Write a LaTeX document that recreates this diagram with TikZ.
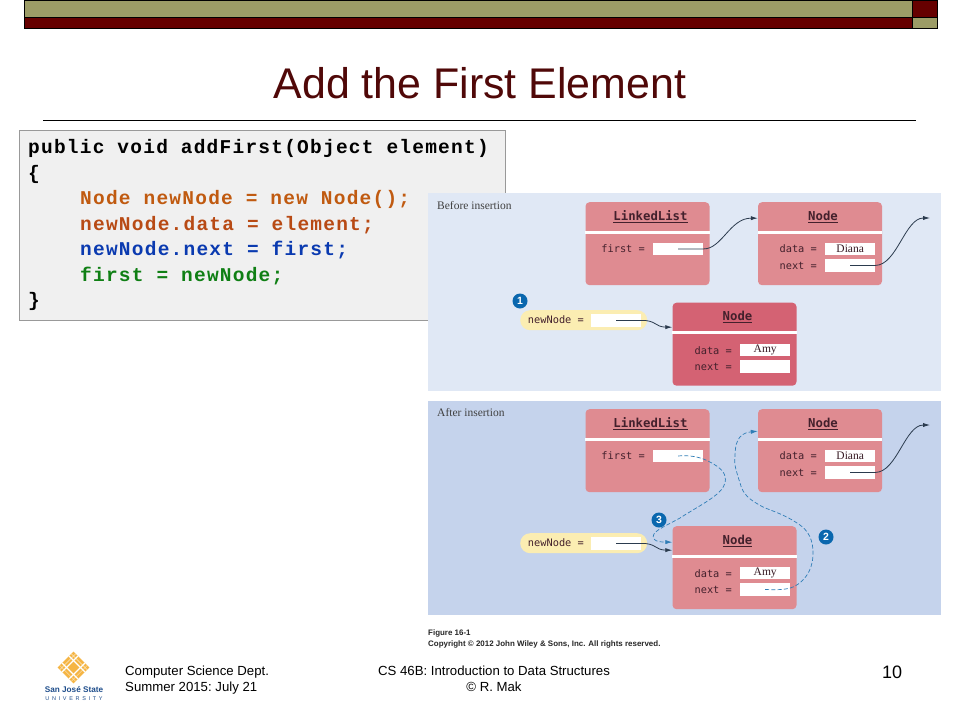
\documentclass[tikz,border=0pt]{standalone}
\usepackage{fontspec}
\setmainfont{Liberation Sans}
\newfontfamily\codefont[LetterSpace=6.3]{Liberation Mono}
\newfontfamily\labfont{DejaVu Sans Mono}
\newfontfamily\serfont{Liberation Serif}
\usetikzlibrary{arrows.meta}
\definecolor{olivebar}{HTML}{9C9C66}
\definecolor{maroonbar}{HTML}{660000}
\definecolor{titlecol}{HTML}{500808}
\definecolor{panelA}{HTML}{E0E8F5}
\definecolor{panelB}{HTML}{C5D3EC}
\definecolor{boxpink}{HTML}{DF8B91}
\definecolor{boxred}{HTML}{D46273}
\definecolor{pill}{HTML}{FBEDB2}
\definecolor{badge}{HTML}{0A67AE}
\definecolor{solidline}{HTML}{2B3B4E}
\definecolor{dashline}{HTML}{2F7DB6}
\definecolor{labcol}{HTML}{43202C}
\definecolor{codeorange}{HTML}{C05A10}
\definecolor{codered}{HTML}{B84A14}
\definecolor{codeblue}{HTML}{0A3AB0}
\definecolor{codegreen}{HTML}{0F7F14}
\definecolor{gold}{HTML}{F5B544}
\definecolor{sjsublue}{HTML}{1F4E8C}
\newcommand{\fs}[1]{\fontsize{#1}{#1}\selectfont}
\tikzset{
  bar/.style={draw=black,line width=0.8pt},
  objbody/.style={rounded corners=4pt,minimum width=124pt,minimum height=83pt,inner sep=0pt},
  objhead/.style={minimum width=124pt,minimum height=29pt,inner sep=0pt,text=labcol,font=\labfont\bfseries\fs{12.3}},
  sepline/.style={white,line width=3pt},
  lab/.style={inner sep=0pt,anchor=base east,text=labcol,font=\labfont\fs{10.3}},
  field/.style={fill=white,anchor=north west,minimum width=50pt,minimum height=12.5pt,inner sep=0pt,font=\serfont\fs{11.5},text=labcol!80!black},
  pillbox/.style={fill=pill,anchor=north west,rounded corners=10pt,minimum width=127pt,minimum height=20pt,inner sep=0pt},
  num/.style={circle,fill=badge,text=white,minimum size=15pt,inner sep=0pt,font=\bfseries\fs{10.5}},
  link/.style={solidline,line width=0.8pt,-{Latex[length=7pt,width=4.2pt]}},
  dlink/.style={dashline,line width=0.7pt,dash pattern=on 4pt off 2.2pt,-{Latex[length=7pt,width=4.2pt]}},
  codeline/.style={inner sep=0pt,anchor=base west,font=\codefont\bfseries\fs{19.5}},
  foot/.style={inner sep=0pt,font=\fs{13.2},text=black},
  panelcap/.style={inner sep=0pt,anchor=base west,font=\serfont\fs{11.5},text=black!75},
  figcap/.style={inner sep=0pt,anchor=base west,font=\bfseries\fs{7.95},text=black!85},
  logoline/.style={white,line width=1.2pt},
  logothin/.style={white!70!gold,line width=0.5pt}
}
% name, centre x, top y, fill, title
\newcommand{\objbox}[5]{%
  \node[objbody,fill=#4,anchor=north] (#1) at (#2,#3) {};
  \node[objhead,anchor=north] (#1h) at (#2,#3) {\hspace*{6pt}\underline{#5}};
  \draw[sepline] ([yshift=-30pt]#1.north west) -- ([yshift=-30pt]#1.north east);
}
\newcommand{\uspaced}{U\hspace{2.7pt}N\hspace{2.7pt}I\hspace{2.7pt}V\hspace{2.7pt}E\hspace{2.7pt}R\hspace{2.7pt}S\hspace{2.7pt}I\hspace{2.7pt}T\hspace{2.7pt}Y}
\begin{document}
\begin{tikzpicture}[x=1pt,y=-1pt]
\useasboundingbox (0,0) rectangle (960,720);
\fill[white] (0,0) rectangle (960,720);
% header bars
\draw[bar,fill=olivebar] (24,0.8) rectangle (912,17);
\draw[bar,fill=maroonbar] (24,17) rectangle (912,28.4);
\draw[bar,fill=maroonbar] (912,0.8) rectangle (937,17);
\draw[bar,fill=olivebar] (912,17) rectangle (937,28.4);
\node[inner sep=0pt,text=titlecol,font=\fs{42.9}] (title) at (480,83) {Add the First Element};
\draw[black,line width=0.8pt] (43,120) -- (916,120);
% code
\node[draw=black!40,fill=black!6,minimum width=486pt,minimum height=190pt,anchor=north west,inner sep=0pt] (code) at (19,130) {};
\node[codeline] (c1) at (28,153) {public void addFirst(Object element)};
\node[codeline] (c2) at (28,179) {\{};
\node[codeline,text=codeorange] (c3) at (80,204) {Node newNode = new Node();};
\node[codeline,text=codered] (c4) at (80,230) {newNode.data = element;};
\node[codeline,text=codeblue] (c5) at (80,255) {newNode.next = first;};
\node[codeline,text=codegreen] (c6) at (80,281) {first = newNode;};
\node[codeline] (c7) at (28,306) {\}};
% panels
\fill[panelA] (428,193) rectangle (941,391);
\fill[panelB] (428,401) rectangle (941,615);
\node[panelcap] (capA) at (437,209.5) {Before insertion};
\node[panelcap] (capB) at (437,416.5) {After insertion};
% --- before
\objbox{llA}{647.5}{202}{boxpink}{LinkedList}
\objbox{ndA}{820}{202}{boxpink}{Node}
\node[lab] (lfA) at (645,252) {first =};
\node[field] (fA) at (653,242.5) {};
\node[lab] (ldA) at (817,252) {data =};
\node[field] (dA) at (825,242.5) {Diana};
\node[lab] (lnA) at (817,269) {next =};
\node[field] (nA) at (825,259) {};
\node[pillbox] (pA) at (520,310) {};
\node[lab] (lpA) at (584,323) {newNode =};
\node[field] (vA) at (591,314) {};
\objbox{nwA}{734.5}{302.5}{boxred}{Node}
\node[lab] (ldB) at (732,354) {data =};
\node[field] (aA) at (740,343.5) {Amy};
\node[lab] (lnB) at (732,370) {next =};
\node[field] (bA) at (740,360) {};
\node[num] (n1) at (520,301) {1};
\coordinate (endA) at (930,218);
\draw[link] (fA.center) -- (fA.east) .. controls (722,249) and (730,218) .. ([yshift=-1.5pt]ndAh.west);
\draw[link] (nA.center) -- (nA.east) .. controls (897,265) and (905,218) .. (endA);
\draw[link] (vA.center) -- (vA.east) .. controls (656,320) and (655,327) .. ([yshift=-10pt]nwAh.west);
% --- after
\objbox{llB}{647.5}{409}{boxpink}{LinkedList}
\objbox{ndB}{820}{409}{boxpink}{Node}
\node[lab] (lfB) at (645,459) {first =};
\node[field] (fB) at (653,449.5) {};
\node[lab] (ldC) at (817,459) {data =};
\node[field] (dB) at (825,449.5) {Diana};
\node[lab] (lnC) at (817,476) {next =};
\node[field] (nB) at (825,466) {};
\node[pillbox] (pB) at (520,533) {};
\node[lab] (lpB) at (584,546) {newNode =};
\node[field] (vB) at (591,537) {};
\objbox{nwB}{734.5}{526}{boxpink}{Node}
\node[lab] (ldD) at (732,577) {data =};
\node[field] (aB) at (740,566.5) {Amy};
\node[lab] (lnD) at (732,593) {next =};
\node[field] (bB) at (740,583) {};
\node[num] (n3) at (659,520) {3};
\node[num] (n2) at (826,537) {2};
\coordinate (endB) at (930,425);
\draw[link] (nB.center) -- (nB.east) .. controls (897,472) and (905,425) .. (endB);
\draw[link] (vB.center) -- (vB.east) .. controls (656,543) and (655,550) .. ([yshift=-9.5pt]nwBh.west);
\draw[dlink] (fB.center) .. controls (690,455) and (700,457) .. (708,461)
  .. controls (722,468) and (727,474) .. (725,483)
  .. controls (722,495) and (700,505) .. (680,518)
  .. controls (662,528) and (650,532) .. (654,539)
  .. controls (656,542) and (662,542) .. ([yshift=-1.5pt]nwBh.west);
\draw[dlink] (bB.center) .. controls (775,590) and (786,590) .. (793,587)
  .. controls (808,580) and (814,565) .. (813,550)
  .. controls (812,535) and (805,528) .. (797,523)
  .. controls (785,515) and (775,512) .. (763,507)
  .. controls (750,500) and (743,495) .. (740,483)
  .. controls (736,470) and (734,465) .. (735,457)
  .. controls (735,445) and (737,433) .. ([yshift=-7.5pt]ndBh.west);
% figure caption
\node[figcap] (fig1) at (428,635) {Figure 16-1};
\node[figcap] (fig2) at (428,646) {Copyright © 2012 John Wiley \& Sons, Inc. All rights reserved.};
% footer
\node[foot,anchor=base west] (ft1) at (125,675.5) {Computer Science Dept.};
\node[foot,anchor=base west] (ft2) at (125,691) {Summer 2015:\ July 21};
\node[foot,anchor=base] (ft3) at (494,675.5) {CS 46B: Introduction to Data Structures};
\node[foot,anchor=base] (ft4) at (494,691) {© R. Mak};
\node[inner sep=0pt,font=\fs{18}] (pg) at (892,672) {10};
% logo
\begin{scope}[shift={(73.5,667.5)},rotate=45]
  \fill[gold] (-11.3,-11.3) rectangle (11.3,11.3);
  \foreach \t in {-8.2,8.2} {
    \draw[logothin] (\t,-11.3) -- (\t,11.3);
    \draw[logothin] (-11.3,\t) -- (11.3,\t);
  }
  \foreach \t in {-5,5} {
    \draw[logoline] (\t,-11.3) -- (\t,11.3);
    \draw[logoline] (-11.3,\t) -- (11.3,\t);
  }
\end{scope}
\node[inner sep=0pt,text=sjsublue,font=\bfseries\fs{8.2}] (sj) at (74,690) {San José State};
\node[inner sep=0pt,text=sjsublue,font=\fs{5.5}] (uni) at (74,699) {\uspaced};
\end{tikzpicture}
\end{document}
